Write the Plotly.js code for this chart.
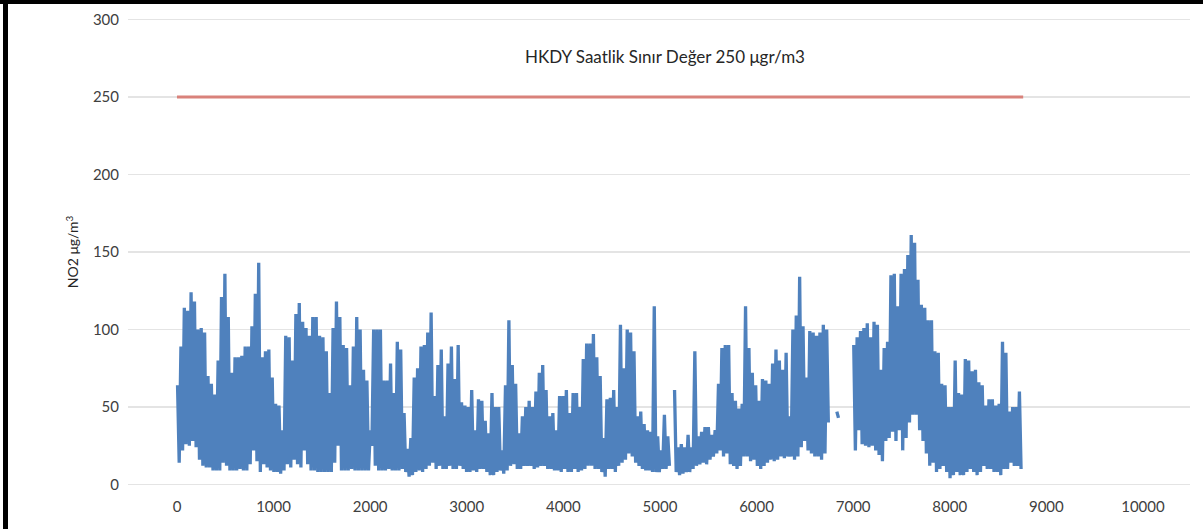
<!DOCTYPE html>
<html>
<head>
<meta charset="utf-8">
<script src="https://cdn.plot.ly/plotly-3.0.1.min.js"></script>
<style>
  html, body { margin: 0; padding: 0; background: #ffffff; }
  #wrap { position: relative; width: 1203px; height: 529px; overflow: hidden; }
  #chart { position: absolute; left: 0; top: 0; width: 1203px; height: 529px; }
  .frame { position: absolute; background: #000000; }
</style>
</head>
<body>
<div id="wrap">
  <div id="chart"></div>
  <div class="frame" style="left:0; top:0; width:1203px; height:4px;"></div>
  <div class="frame" style="left:3px; top:0; width:5px; height:529px;"></div>
</div>
<script>
// Hourly NO2 concentrations (µg/m³) over one year, summarised per 35-hour block:
// the highest and the lowest hourly value of each block. null = no measurements.
const BLOCK_HOURS = 35;

const blockPeak = [
  64, 89, 114, 112, 124, 118, 100, 101, 98, 70,
  65, 58, 80, 121, 136, 108, 72, 82, 82, 83,
  89, 89, 102, 123, 143, 82, 86, 87, 69, 52,
  51, 35, 96, 95, 80, 110, 117, 105, 101, 96,
  108, 108, 96, 95, 86, 59, 101, 118, 108, 90,
  88, 64, 89, 108, 100, 74, 67, 35, 100, 100,
  100, 67, 67, 78, 59, 92, 87, 46, 23, 30,
  69, 75, 89, 90, 98, 111, 57, 77, 87, 44,
  78, 89, 68, 90, 53, 51, 50, 61, 35, 55,
  54, 41, 33, 59, 50, 50, 22, 64, 106, 77,
  65, 33, 44, 50, 54, 50, 60, 72, 77, 61,
  44, 46, 35, 57, 57, 61, 46, 59, 59, 50,
  81, 91, 91, 97, 82, 70, 30, 55, 56, 61,
  50, 103, 75, 100, 98, 86, 44, 47, 39, 35,
  34, 115, 31, 22, 45, 31, null, 61, 24, 26,
  24, 32, 24, 86, 31, 34, 37, 37, 32, 35,
  65, 88, 90, 90, 59, 54, 49, 52, 115, 88,
  72, 64, 54, 68, 67, 65, 78, 87, 80, 74,
  85, 44, 100, 109, 134, 102, 69, 99, 98, 96,
  98, 103, 100, null, null, 47, null, null, null, null,
  90, 95, 99, 101, 104, 95, 105, 103, 74, 88,
  92, 135, 136, 115, 136, 139, 148, 161, 156, 132,
  116, 114, 106, 106, 86, 85, 65, 64, 50, 50,
  80, 59, 58, 81, 80, 73, 74, 66, 64, 51,
  55, 55, 51, 52, 92, 85, 47, 50, 50, 60
];

const blockLow = [
  14, 22, 26, 25, 28, 24, 16, 12, 11, 11,
  9, 9, 9, 14, 12, 9, 9, 9, 10, 9,
  9, 13, 22, 15, 8, 13, 11, 9, 8, 8,
  7, 9, 13, 11, 16, 13, 11, 22, 13, 9,
  9, 8, 8, 8, 8, 8, 14, 25, 9, 9,
  9, 10, 9, 9, 9, 9, 9, 25, 12, 9,
  9, 9, 10, 9, 9, 9, 10, 8, 5, 6,
  8, 9, 8, 10, 12, 14, 10, 12, 10, 10,
  12, 10, 10, 12, 10, 8, 8, 9, 8, 10,
  10, 8, 6, 6, 8, 9, 7, 9, 12, 13,
  10, 10, 12, 12, 12, 10, 11, 12, 12, 10,
  10, 9, 9, 8, 10, 8, 8, 10, 8, 9,
  10, 12, 12, 10, 10, 8, 5, 10, 10, 8,
  12, 14, 16, 20, 18, 14, 12, 10, 9, 9,
  8, 8, 8, 10, 10, 12, null, 8, 6, 7,
  8, 8, 10, 12, 13, 14, 13, 16, 18, 20,
  22, 18, 20, 13, 12, 10, 12, 18, 18, 15,
  16, 12, 10, 12, 14, 16, 15, 16, 18, 17,
  18, 18, 16, 18, 24, 28, 22, 20, 18, 18,
  16, 20, 40, null, null, 43, null, null, null, null,
  22, 35, 26, 25, 24, 25, 22, 19, 15, 28,
  30, 34, 28, 35, 22, 30, 40, 45, 45, 35,
  28, 20, 12, 14, 8, 10, 12, 8, 4, 6,
  8, 6, 6, 8, 10, 8, 6, 8, 12, 10,
  10, 8, 8, 6, 10, 10, 14, 12, 12, 10
];

// Hourly limit value (HKDY) and the hours it spans
const limitValue = 250;
const limitHours = [0, 8760];
const limitLabel = 'HKDY Saatlik Sınır Değer 250 μgr/m3';

const xTickValues = [0, 1000, 2000, 3000, 4000, 5000, 6000, 7000, 8000, 9000, 10000];
const xTickLabels = ['0', '1000', '2000', '3000', '4000', '5000', '6000', '7000', '8000', '9000', '10000'];
const yTickValues = [0, 50, 100, 150, 200, 250, 300];
const yTickLabels = ['0', '50', '100', '150', '200', '250', '300'];

// Expand every block into its high and low hour so the series keeps its hourly swing
const hours = [];
const no2 = [];
blockPeak.forEach((peak, k) => {
  const start = k * BLOCK_HOURS;
  if (peak === null) {
    hours.push(start + 6);
    no2.push(null);
    return;
  }
  hours.push(start + 6);
  no2.push(peak);
  hours.push(start + 23);
  no2.push(blockLow[k]);
});

const FONT = 'Lato, "Open Sans", sans-serif';

const traces = [
  {
    type: 'scatter',
    mode: 'lines',
    x: hours,
    y: no2,
    connectgaps: false,
    line: { color: '#4f81bd', width: 3.3 },
    hoverinfo: 'skip'
  },
  {
    type: 'scatter',
    mode: 'lines',
    x: limitHours,
    y: [limitValue, limitValue],
    line: { color: '#d9827b', width: 3 },
    hoverinfo: 'skip'
  }
];

const layout = {
  width: 1203,
  height: 529,
  margin: { l: 128, r: 13, t: 18, b: 43 },
  paper_bgcolor: '#ffffff',
  plot_bgcolor: '#ffffff',
  showlegend: false,
  hovermode: false,
  font: { family: FONT, size: 15, color: '#404040' },
  xaxis: {
    range: [-507, 10487],
    tickmode: 'array',
    tickvals: xTickValues,
    ticktext: xTickLabels,
    showgrid: false,
    zeroline: false,
    showline: false,
    ticks: '',
    ticklabelstandoff: 10,
    tickfont: { family: FONT, size: 15, color: '#404040' }
  },
  yaxis: {
    range: [-1, 301],
    tickmode: 'array',
    tickvals: yTickValues,
    ticktext: yTickLabels,
    showgrid: true,
    gridcolor: '#e4e4e4',
    gridwidth: 1.5,
    zeroline: false,
    showline: false,
    ticks: '',
    ticklabelstandoff: 8,
    tickfont: { family: FONT, size: 15, color: '#404040' },
    title: {
      text: 'NO2 μg/m<sup>3</sup>',
      font: { family: FONT, size: 14, color: '#262626' },
      standoff: 10
    }
  },
  annotations: [
    {
      x: 5050,
      y: 276,
      xref: 'x',
      yref: 'y',
      text: limitLabel,
      showarrow: false,
      font: { family: FONT, size: 17, color: '#262626' }
    }
  ]
};

Plotly.newPlot('chart', traces, layout, { staticPlot: true, displayModeBar: false });
</script>
</body>
</html>
